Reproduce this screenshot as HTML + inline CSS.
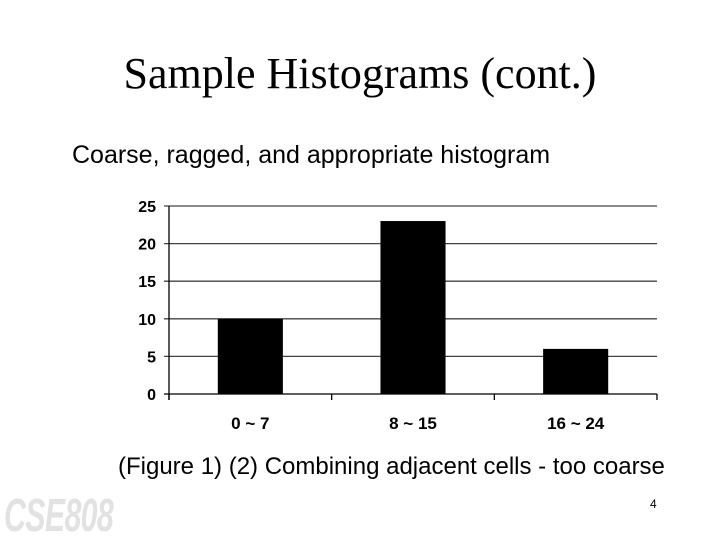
<!DOCTYPE html>
<html><head><meta charset="utf-8"><style>
body{margin:0;width:720px;height:540px;background:#fff;position:relative;overflow:hidden;font-family:"Liberation Sans",sans-serif}
.t{position:absolute;white-space:nowrap}
</style></head><body>
<div class="t" style="left:0;width:720px;text-align:center;top:48px;font-family:'Liberation Serif',serif;font-size:44px;">Sample Histograms (cont.)</div>
<div class="t" style="left:72px;top:141px;font-size:25px;">Coarse, ragged, and appropriate histogram</div>
<svg id="c" width="720" height="540" style="position:absolute;left:0;top:0"></svg>
<div class="t" style="left:118px;top:453px;font-size:24px;">(Figure 1) (2) Combining adjacent cells - too coarse</div>
<div class="t" style="left:650px;top:497px;font-size:12px;">4</div>
<div class="t" style="left:4px;top:488px;font-size:46px;font-weight:bold;font-style:italic;color:#e2e2e2;transform:scaleX(0.66);transform-origin:left top;letter-spacing:-1px;">CSE808</div>
<script>
const categories=["0 ~ 7","8 ~ 15","16 ~ 24"];
const values=[10,23,6];
const yTicks=[0,5,10,15,20,25];
const svg=document.getElementById('c');const NS='http://www.w3.org/2000/svg';
const X0=169,X1=657,Y0=394,Y1=206,YMAX=25;
const y=v=>Y0-(v/YMAX)*(Y0-Y1);
const cw=(X1-X0)/categories.length;
const x=i=>X0+i*cw;
function mk(t,a){const e=document.createElementNS(NS,t);for(const k in a)e.setAttribute(k,a[k]);svg.appendChild(e);return e;}
yTicks.forEach(v=>{
 const l=mk('line',{x1:X0-5,x2:X1,y1:y(v),y2:y(v),stroke:v===0?'#000':'#444','stroke-width':1.3});
 
 
 const t=mk('text',{x:X0-13,y:y(v)+6,'text-anchor':'end','font-size':16,'font-weight':'bold','font-family':'Liberation Sans, sans-serif'});
 t.textContent=v;
 
 
});
const ax=mk('line',{x1:X0,x2:X0,y1:Y1,y2:Y0+6,stroke:'#000','stroke-width':1.3});


for(let i=0;i<=categories.length;i++){
 const tk=mk('line',{x1:x(i),x2:x(i),y1:Y0,y2:Y0+6,stroke:'#000','stroke-width':1.3});
 
 
}
categories.forEach((c,i)=>{
 const bw=cw*0.4;
 const r=mk('rect',{x:x(i)+(cw-bw)/2,y:y(values[i]),width:bw,height:Y0-y(values[i]),fill:'#000'});
 
 
 const t=mk('text',{x:x(i)+cw/2,y:429,'text-anchor':'middle','font-size':17,'font-weight':'bold','font-family':'Liberation Sans, sans-serif'});
 t.textContent=c;
 
 
});
</script>
</body></html>
